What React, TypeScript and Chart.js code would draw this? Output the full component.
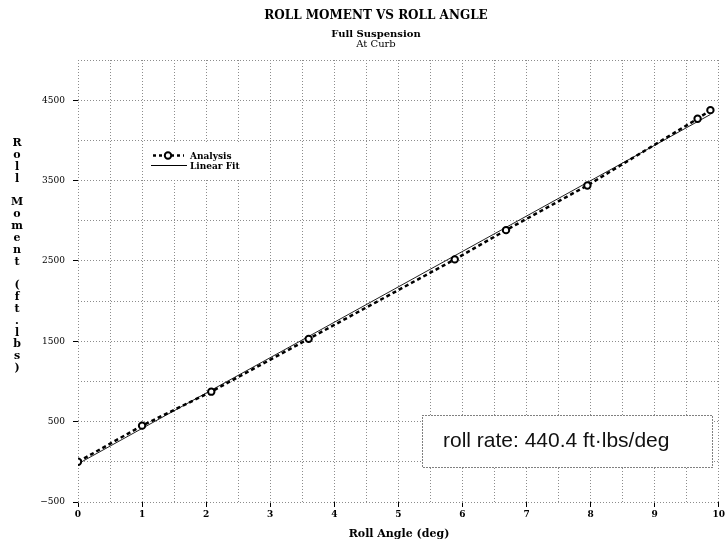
import React, { useEffect, useRef } from "react";
import { Chart, registerables } from "chart.js";

Chart.register(...registerables);

// ---- data ----
const angleDeg = [0, 1, 2.08, 3.6, 5.88, 6.68, 7.95, 9.67, 9.87];
const momentFtLbs = [0, 450, 873, 1530, 2519, 2883, 3439, 4269, 4376];
const fitAngle = [0, 9.87];
const fitMoment = [-25, 4322];

const titleText = "ROLL MOMENT VS ROLL ANGLE";
const subtitleText = "Full Suspension";
const subsubtitleText = "At Curb";
const xAxisTitle = "Roll Angle (deg)";
const yAxisTitle = "Roll Moment (ft.lbs)";
const annotationText = "roll rate: 440.4 ft\u00b7lbs/deg";
const legendLabels = ["Analysis", "Linear Fit"];

const SERIF = '"DejaVu Serif", serif';
const SANS = '"Liberation Sans", Arial, sans-serif';

const overlayPlugin = {
  id: "overlay",
  afterDraw(chart: any) {
    const ctx: CanvasRenderingContext2D = chart.ctx;
    ctx.save();
    ctx.fillStyle = "#000";
    ctx.textBaseline = "alphabetic";

    // titles
    ctx.textAlign = "center";
    ctx.font = `bold 12px ${SERIF}`;
    ctx.fillText(titleText, 376, 18.5);
    ctx.font = `bold 10px ${SERIF}`;
    ctx.fillText(subtitleText, 376, 36.5);
    ctx.font = `10px ${SERIF}`;
    ctx.fillText(subsubtitleText, 376, 47);

    // x axis title
    ctx.font = `bold 11px ${SERIF}`;
    ctx.fillText(xAxisTitle, 399, 537);

    // y axis title: one character per line
    ctx.font = `bold 11px ${SERIF}`;
    const chars = yAxisTitle.split("");
    chars.forEach((ch, i) => {
      if (ch !== " ") ctx.fillText(ch, 17, 146 + i * 11.85);
    });

    // legend
    ctx.fillStyle = "#fff";
    ctx.fillRect(143, 142, 120, 37);
    ctx.strokeStyle = "#000";
    ctx.lineWidth = 2.5;
    ctx.setLineDash([3, 3]);
    ctx.beginPath();
    ctx.moveTo(153, 155.5);
    ctx.lineTo(184, 155.5);
    ctx.stroke();
    ctx.setLineDash([]);
    ctx.lineWidth = 2;
    ctx.fillStyle = "#fff";
    ctx.beginPath();
    ctx.arc(168, 155.5, 3.2, 0, Math.PI * 2);
    ctx.fill();
    ctx.stroke();
    ctx.lineWidth = 1;
    ctx.beginPath();
    ctx.moveTo(151, 165.5);
    ctx.lineTo(187, 165.5);
    ctx.stroke();
    ctx.fillStyle = "#000";
    ctx.textAlign = "left";
    ctx.font = `bold 9px ${SERIF}`;
    ctx.fillText(legendLabels[0], 190, 158.5);
    ctx.fillText(legendLabels[1], 190, 169);

    // annotation box
    ctx.fillStyle = "#fff";
    ctx.fillRect(422.5, 415.5, 290, 52);
    ctx.strokeStyle = "#000";
    ctx.lineWidth = 1;
    ctx.setLineDash([1, 2]);
    ctx.strokeRect(422.5, 415.5, 290, 52);
    ctx.setLineDash([]);
    ctx.fillStyle = "#111";
    ctx.font = `21px ${SANS}`;
    ctx.fillText(annotationText, 443, 446.5);

    ctx.restore();
  },
};

export default function App() {
  const ref = useRef<HTMLCanvasElement | null>(null);

  useEffect(() => {
    if (!ref.current) return;
    const analysis = angleDeg.map((x, i) => ({ x, y: momentFtLbs[i] }));
    const fit = fitAngle.map((x, i) => ({ x, y: fitMoment[i] }));
    const gridColor = "#8c8c8c";

    const chart = new Chart(ref.current, {
      type: "line",
      data: {
        datasets: [
          {
            label: legendLabels[0],
            data: analysis,
            borderColor: "#000",
            borderWidth: 2.5,
            borderDash: [4, 3],
            pointRadius: 3.2,
            pointBorderWidth: 2,
            pointBackgroundColor: "#fff",
            pointBorderColor: "#000",
            tension: 0,
            order: 0,
          },
          {
            label: legendLabels[1],
            data: fit,
            borderColor: "#222",
            borderWidth: 1,
            pointRadius: 0,
            tension: 0,
            order: 1,
          },
        ],
      } as any,
      options: {
        animation: false,
        responsive: false,
        devicePixelRatio: 1,
        layout: { padding: { top: 60, right: 6, left: 0, bottom: 0 } },
        plugins: {
          legend: { display: false },
          title: { display: false },
          tooltip: { enabled: false },
        },
        scales: {
          x: {
            type: "linear",
            min: 0,
            max: 10,
            afterFit: (s: any) => {
              s.height = 46;
            },
            ticks: {
              stepSize: 0.5,
              autoSkip: false,
              maxRotation: 0,
              padding: 2,
              color: "#000",
              font: { family: SERIF, size: 9, weight: "bold" },
              callback: (v: any) => (Number.isInteger(v) ? String(v) : ""),
            },
            grid: {
              color: gridColor,
              lineWidth: 1,
              drawTicks: true,
              tickLength: 5,
              tickWidth: 1,
              tickBorderDash: [],
              tickColor: (c: any) =>
                c.tick && Number.isInteger(c.tick.value) ? "#000" : "rgba(0,0,0,0)",
            },
            border: { display: false, dash: [1, 2] },
          },
          y: {
            type: "linear",
            min: -500,
            max: 5000,
            afterFit: (s: any) => {
              s.width = 78;
            },
            ticks: {
              stepSize: 500,
              autoSkip: false,
              padding: 8,
              color: "#000",
              font: { family: SERIF, size: 9 },
              callback: (v: any) =>
                (v + 500) % 1000 === 0 ? (v < 0 ? "\u2212" + Math.abs(v) : String(v)) : "",
            },
            grid: {
              color: gridColor,
              lineWidth: 1,
              drawTicks: true,
              tickLength: 5,
              tickWidth: 1,
              tickBorderDash: [],
              tickColor: (c: any) =>
                c.tick && (c.tick.value + 500) % 1000 === 0 ? "#000" : "rgba(0,0,0,0)",
            },
            border: { display: false, dash: [1, 2] },
          },
        },
      } as any,
      plugins: [overlayPlugin],
    });

    return () => chart.destroy();
  }, []);

  return (
    <div style={{ position: "absolute", left: 0, top: 0, width: 727, height: 548, background: "#fff" }}>
      <canvas ref={ref} width={727} height={548} style={{ display: "block", width: 727, height: 548 }} />
    </div>
  );
}
